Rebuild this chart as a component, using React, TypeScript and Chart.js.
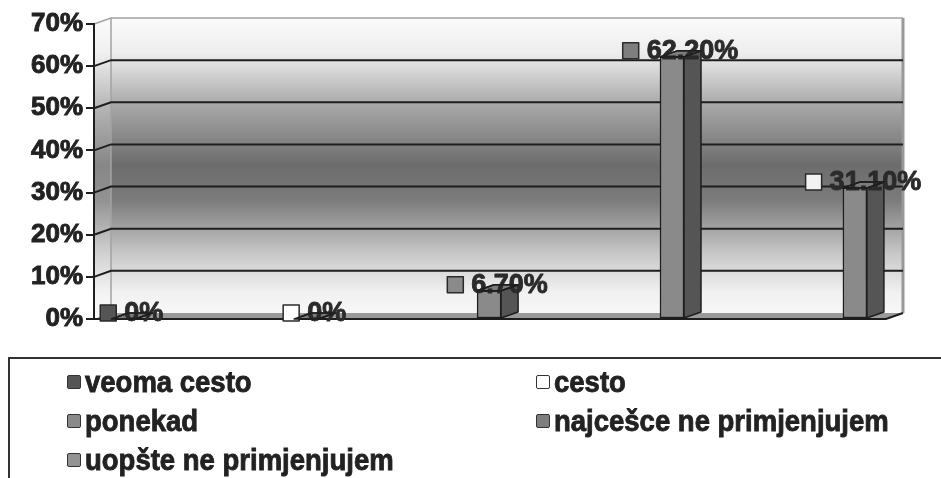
import React, { useEffect, useRef } from "react";
import { Chart, registerables } from "chart.js";

Chart.register(...registerables);

// Survey answers and their shares (percent)
const categories = [
  "veoma cesto",
  "cesto",
  "ponekad",
  "najcešce ne primjenjujem",
  "uopšte ne primjenjujem",
];
const values = [0, 0, 6.7, 62.2, 31.1];

// Swatch colours used in the key and next to the value labels
const keyColors = ["#555555", "#ffffff", "#8a8a8a", "#7e7e7e", "#939393"];
const labelSwatchColors = ["#555555", "#ffffff", "#8a8a8a", "#7e7e7e", "#f2f2f2"];

// Value axis
const yMin = 0;
const yMax = 70;
const yStep = 10;

const FONT = '"Liberation Sans", Arial, Helvetica, sans-serif';
const W = 941;
const H = 478;

// depth of the pseudo-3D frame and columns
const DX = 17;
const DY = 6;

const fmtValue = (v: number) => (v === 0 ? "0%" : v.toFixed(2) + "%");

function poly(ctx: CanvasRenderingContext2D, pts: number[][]) {
  ctx.beginPath();
  ctx.moveTo(pts[0][0], pts[0][1]);
  for (let i = 1; i < pts.length; i++) ctx.lineTo(pts[i][0], pts[i][1]);
  ctx.closePath();
}

const framePlugin = {
  id: "frame3d",
  beforeDraw(chart: any) {
    const ctx: CanvasRenderingContext2D = chart.ctx;
    const { left, right, top, bottom } = chart.chartArea;
    const y = chart.scales.y;
    ctx.save();

    const g = ctx.createLinearGradient(0, top - DY, 0, bottom - DY);
    g.addColorStop(0, "#fbfbfb");
    g.addColorStop(0.12, "#ededed");
    g.addColorStop(0.3, "#a6a6a6");
    g.addColorStop(0.5, "#6c6c6c");
    g.addColorStop(0.62, "#7c7c7c");
    g.addColorStop(0.8, "#c8c8c8");
    g.addColorStop(0.93, "#f1f1f1");
    g.addColorStop(1, "#f7f7f7");

    // back wall
    ctx.fillStyle = g;
    ctx.fillRect(left + DX, top - DY, right - left, bottom - top);

    // side wall
    poly(ctx, [
      [left, top],
      [left + DX, top - DY],
      [left + DX, bottom - DY],
      [left, bottom],
    ]);
    ctx.fillStyle = g;
    ctx.fill();
    ctx.fillStyle = "rgba(255,255,255,0.18)";
    ctx.fill();

    // floor
    poly(ctx, [
      [left, bottom],
      [left + DX, bottom - DY],
      [right + DX, bottom - DY],
      [right, bottom],
    ]);
    ctx.fillStyle = "#9a9a9a";
    ctx.fill();

    // wall outlines
    ctx.strokeStyle = "#a3a3a3";
    ctx.lineWidth = 1.5;
    ctx.beginPath();
    ctx.moveTo(left, top);
    ctx.lineTo(left + DX, top - DY);
    ctx.lineTo(right + DX, top - DY);
    ctx.moveTo(left + DX, top - DY);
    ctx.lineTo(left + DX, bottom - DY);
    ctx.stroke();
    ctx.strokeStyle = "#989898";
    ctx.lineWidth = 3;
    ctx.beginPath();
    ctx.moveTo(right + DX, top - DY);
    ctx.lineTo(right + DX, bottom - DY);
    ctx.stroke();

    // grid lines running back along the side wall and across the back wall
    ctx.strokeStyle = "#1e1e1e";
    ctx.lineWidth = 2;
    for (const t of y.ticks) {
      if (t.value <= yMin || t.value >= yMax) continue;
      const py = y.getPixelForValue(t.value);
      ctx.beginPath();
      ctx.moveTo(left, py);
      ctx.lineTo(left + DX, py - DY);
      ctx.lineTo(right + DX, py - DY);
      ctx.stroke();
    }

    // front edge of the floor
    ctx.beginPath();
    ctx.moveTo(left, bottom);
    ctx.lineTo(right, bottom);
    ctx.lineTo(right + DX, bottom - DY);
    ctx.stroke();
    ctx.restore();
  },
  afterDatasetsDraw(chart: any) {
    const ctx: CanvasRenderingContext2D = chart.ctx;
    const meta = chart.getDatasetMeta(0);
    const tops: number[][][] = [];
    ctx.save();
    ctx.lineJoin = "round";
    meta.data.forEach((el: any) => {
      const { x, y, base, width } = el.getProps(["x", "y", "base", "width"], true);
      const L = x - width / 2;
      const R = x + width / 2;
      // side face
      poly(ctx, [
        [R, y],
        [R + DX, y - DY],
        [R + DX, base - DY],
        [R, base],
      ]);
      ctx.fillStyle = "#555555";
      ctx.fill();
      ctx.strokeStyle = "#1e1e1e";
      ctx.lineWidth = 1.5;
      ctx.stroke();
      // top face
      const tp = [
        [L, y],
        [L + DX, y - DY],
        [R + DX, y - DY],
        [R, y],
      ];
      poly(ctx, tp);
      ctx.fillStyle = "#7c7c7c";
      ctx.fill();
      ctx.stroke();
      tops.push(tp);
    });

    // value labels with their swatches
    ctx.font = `bold 27px ${FONT}`;
    ctx.textBaseline = "middle";
    ctx.textAlign = "left";
    meta.data.forEach((el: any, i: number) => {
      const { x, y } = el.getProps(["x", "y"], true);
      const text = fmtValue(values[i]);
      const tw = ctx.measureText(text).width;
      const sw = 16;
      const gap = 8;
      const total = sw + gap + tw;
      const cx = x + DX / 2;
      const cy = y - DY / 2 - 3;
      const x0 = cx - total / 2;
      ctx.fillStyle = labelSwatchColors[i];
      ctx.fillRect(x0, cy - sw / 2, sw, sw);
      ctx.strokeStyle = "#2a2a2a";
      ctx.lineWidth = 1.5;
      ctx.strokeRect(x0, cy - sw / 2, sw, sw);
      ctx.fillStyle = "#2b2b2b";
      ctx.fillText(text, x0 + sw + gap, cy + 1);
      ctx.lineWidth = 0.9;
      ctx.strokeStyle = "#2b2b2b";
      ctx.strokeText(text, x0 + sw + gap, cy + 1);
    });

    // column top edges stay visible over the labels
    ctx.strokeStyle = "#1e1e1e";
    ctx.lineWidth = 1.5;
    tops.forEach((tp) => {
      poly(ctx, tp);
      ctx.stroke();
    });
    ctx.restore();
  },
};

function Key() {
  const cols = [65, 534];
  const rows = [380, 419, 458];
  return (
    <div
      style={{
        position: "absolute",
        left: 8,
        top: 357,
        width: 1000,
        height: 200,
        borderTop: "2.5px solid #333",
        borderLeft: "2.5px solid #333",
        boxSizing: "border-box",
      }}
    >
      {categories.map((c, i) => {
        const left = cols[i % 2] - 8;
        const cy = rows[Math.floor(i / 2)] - 357;
        return (
          <div
            key={c}
            style={{
              position: "absolute",
              left,
              top: cy - 18,
              height: 36,
              display: "flex",
              alignItems: "center",
              whiteSpace: "nowrap",
            }}
          >
            <span
              style={{
                display: "inline-block",
                width: 14,
                height: 14,
                background: keyColors[i],
                border: "1.5px solid #333",
                borderRadius: 2,
                boxSizing: "border-box",
                marginRight: 4,
              }}
            />
            <span
              style={{
                fontFamily: FONT,
                fontWeight: "bold",
                fontSize: 27.5,
                color: "#222",
                lineHeight: "36px",
                display: "inline-block",
                transform: "scaleY(1.08)",
                WebkitTextStroke: "0.8px #222",
              }}
            >
              {c}
            </span>
          </div>
        );
      })}
    </div>
  );
}

export default function App() {
  const ref = useRef<HTMLCanvasElement>(null);

  useEffect(() => {
    if (!ref.current) return;
    const chart = new Chart(ref.current, {
      type: "bar",
      data: {
        datasets: [
          {
            data: values.map((v, i) => ({ x: i, y: v })),
            backgroundColor: "#8a8a8a",
            borderColor: "#1e1e1e",
            borderWidth: 1.5,
            borderSkipped: false,
            barThickness: 24,
          },
        ],
      },
      options: {
        responsive: false,
        animation: false,
        devicePixelRatio: 1,
        layout: { padding: { top: 24, right: W - 886, bottom: H - 319, left: 0 } },
        plugins: { legend: { display: false }, tooltip: { enabled: false } },
        scales: {
          x: { type: "linear", min: -0.16, max: 4.17, offset: false, display: false },
          y: {
            min: yMin,
            max: yMax,
            ticks: {
              stepSize: yStep,
              callback: (v: any) => v + "%",
              font: { family: FONT, size: 26, weight: "bold" },
              color: "#222",
              padding: 3,
              textStrokeWidth: 0.9,
              textStrokeColor: "#222",
            },
            grid: {
              drawOnChartArea: false,
              drawTicks: true,
              tickLength: 8,
              color: "#1e1e1e",
              lineWidth: 2,
            },
            border: { display: true, color: "#1e1e1e", width: 2 },
            afterFit: (s: any) => {
              s.width = 94;
            },
          },
        },
      } as any,
      plugins: [framePlugin],
    });
    return () => chart.destroy();
  }, []);

  return (
    <div
      style={{
        position: "fixed",
        left: 0,
        top: 0,
        width: W,
        height: H,
        overflow: "hidden",
        background: "#fff",
      }}
    >
      <canvas ref={ref} width={W} height={H} style={{ position: "absolute", left: 0, top: 0 }} />
      <Key />
    </div>
  );
}
